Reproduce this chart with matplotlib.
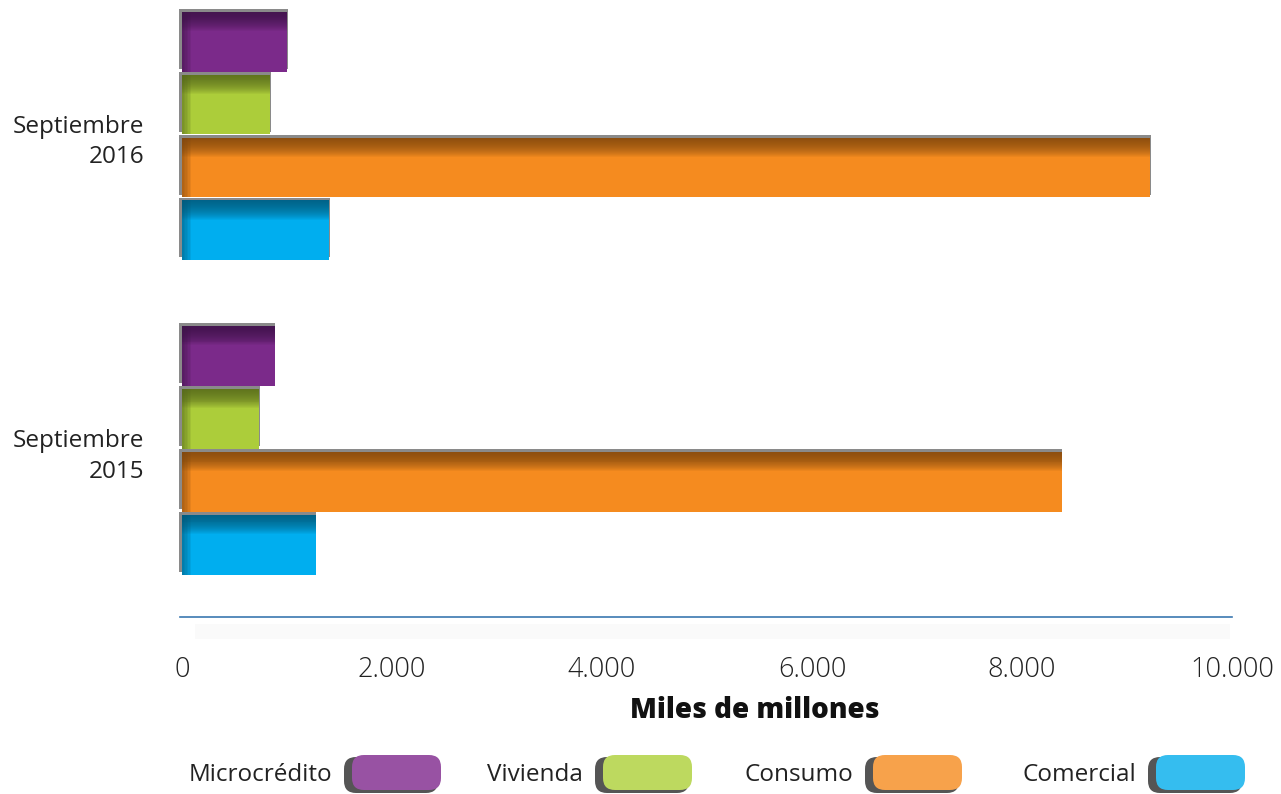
import numpy as np
import matplotlib.pyplot as plt
from matplotlib.patches import FancyBboxPatch, Rectangle

plt.rcParams['font.family'] = ['Open Sans', 'DejaVu Sans']

periods = ['Septiembre\n2015', 'Septiembre\n2016']
series = ['Microcrédito', 'Vivienda', 'Consumo', 'Comercial']
values = {
    'Microcrédito': [885, 1000],
    'Vivienda': [735, 840],
    'Consumo': [8380, 9220],
    'Comercial': [1275, 1400],
}
colors = ['#7B2A8A', '#ACCD3A', '#F58B1F', '#00AEEF']
dark = ['#3E1548', '#55661D', '#7B460F', '#005878']
legend_colors = ['#9852A3', '#BDD95F', '#F7A24B', '#35BDEF']
xticks = [0, 2000, 4000, 6000, 8000, 10000]
xticklabels = ['0', '2.000', '4.000', '6.000', '8.000', '10.000']

fig = plt.figure(figsize=(12.81, 7.94), dpi=100)
ax = fig.add_axes([182 / 1281, 177 / 794, 1050 / 1281, 613 / 794])

y = np.arange(len(periods))
offsets = [0.3, 0.1, -0.1, -0.3]
h = 0.19
for k, name in enumerate(series):
    yy = y + offsets[k]
    v = np.array(values[name])
    # grey frame slightly up-left
    ax.barh(yy + 0.009, v + 35, height=h, left=-30, color='#8A8A8A', zorder=2, clip_on=False)
    ax.barh(yy, v, height=h, color=colors[k], zorder=3)
    # dark top gradient
    n = 20
    for j in range(n):
        frac = 0.32 * (j + 1) / n
        ax.barh(yy + h / 2 - frac / 2 * h, v, height=frac * h, color=dark[k],
                alpha=0.08, zorder=4, linewidth=0)
    # dark left edge gradient
    for j in range(6):
        ax.barh(yy, np.full(2, 15 * (j + 1)), height=h, color=dark[k], alpha=0.12,
                zorder=4, linewidth=0)

ax.set_xlim(0, 10000)
ax.set_ylim(-0.53, 1.42)
ax.set_yticks(y)
ax.set_yticklabels(periods, fontsize=17.5, color='#222222', ha='right', linespacing=1.35)
ax.tick_params(axis='y', length=0, pad=27)
ax.set_xticks(xticks)
ax.set_xticklabels(xticklabels, fontsize=19.5, color='#222222', fontweight='light')
ax.tick_params(axis='x', length=0, pad=28)
for s in ['top', 'right', 'left']:
    ax.spines[s].set_visible(False)
ax.spines['bottom'].set_color('#3B78B0')
ax.spines['bottom'].set_linewidth(1.2)
ax.spines['bottom'].set_bounds(-20, 10000)

fig.text(755 / 1281, 1 - 710 / 794, 'Miles de millones', ha='center', va='center',
         fontsize=20, fontweight='heavy', color='#111111')

# legend and soft shadow under the axis line
lax = fig.add_axes([0, 0, 1, 1], zorder=-1)
lax.set_xlim(0, 1281)
lax.set_ylim(794, 0)
lax.axis('off')
lax.add_patch(Rectangle((195, 624), 1035, 15, facecolor='#FAFAFA', edgecolor='none'))
label_right = [332, 583, 853, 1136]
for k, name in enumerate(series):
    x0 = label_right[k] + 12
    lax.text(label_right[k], 775, name, ha='right', va='center', fontsize=17.5, color='#222222')
    lax.add_patch(FancyBboxPatch((x0, 757), 94, 36, boxstyle='round,pad=0,rounding_size=12',
                                 facecolor='#555555', edgecolor='none'))
    lax.add_patch(FancyBboxPatch((x0 + 8, 755), 89, 35, boxstyle='round,pad=0,rounding_size=12',
                                 facecolor=legend_colors[k], edgecolor='none'))

fig.savefig('out.png', dpi=100)
